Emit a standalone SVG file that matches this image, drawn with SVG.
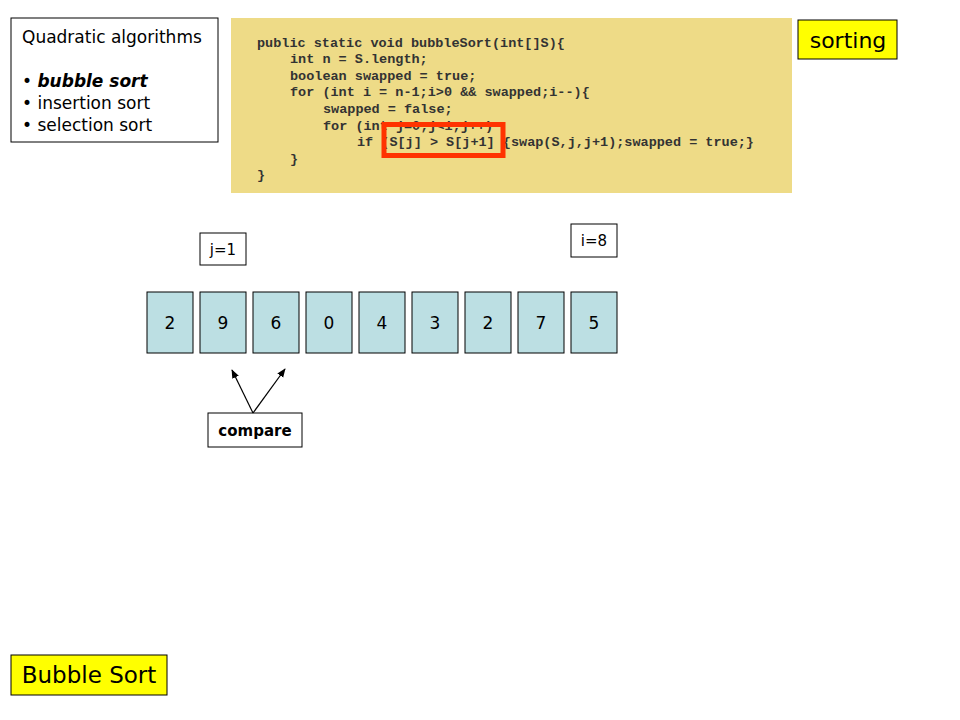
<svg xmlns="http://www.w3.org/2000/svg" width="960" height="720" viewBox="0 0 960 720">
<style>
.box{fill:#fff;stroke:#000;stroke-width:1}
.ybox{fill:#ffff00;stroke:#000;stroke-width:1}
.cell{fill:#bcdfe3;stroke:#000;stroke-width:1}
.t{font-family:"DejaVu Sans","Liberation Sans",sans-serif;fill:#000}
.q{font-size:17px}
.code{font-family:"Liberation Mono","DejaVu Sans Mono",monospace;font-size:13.5px;font-weight:bold;fill:#333}
.num{font-size:17px;text-anchor:middle}
.conn{stroke:#000;stroke-width:1.2;fill:none}
</style>
<defs>
<marker id="ah" viewBox="0 0 10 10" refX="9" refY="5" markerWidth="9" markerHeight="9" markerUnits="userSpaceOnUse" orient="auto">
<path d="M0,1 L10,5 L0,9 Z" fill="#000"/>
</marker>
</defs>
<rect width="960" height="720" fill="#fff"/>

<g id="quadratic">
<rect class="box" x="11" y="18" width="207" height="124"/>
<text class="t q" x="22" y="43">Quadratic algorithms</text>
<text class="t q" x="22" y="87">• <tspan font-weight="bold" font-style="italic">bubble sort</tspan></text>
<text class="t q" x="22" y="109">• insertion sort</text>
<text class="t q" x="22" y="131">• selection sort</text>
</g>

<g id="code">
<rect x="231" y="18" width="561" height="175" fill="#eedb87"/>
<text class="code" x="257" y="47">public static void bubbleSort(int[]S){</text>
<text class="code" x="290" y="63">int n = S.length;</text>
<text class="code" x="290" y="80">boolean swapped = true;</text>
<text class="code" x="290" y="96">for (int i = n-1;i&gt;0 &amp;&amp; swapped;i--){</text>
<text class="code" x="323" y="113">swapped = false;</text>
<text class="code" x="323" y="130">for (int j=0;j&lt;i;j++)</text>
<text class="code" x="357" y="146">if (S[j] &gt; S[j+1] {swap(S,j,j+1);swapped = true;}</text>
<text class="code" x="290" y="163">}</text>
<text class="code" x="257" y="179">}</text>
<rect x="384" y="124.5" width="119" height="31" fill="none" stroke="#ff3300" stroke-width="5"/>
</g>

<g id="sorting">
<rect class="ybox" x="798" y="20" width="99" height="39"/>
<text class="t" x="848" y="48" font-size="22" text-anchor="middle">sorting</text>
</g>

<g id="j">
<rect class="box" x="200" y="233" width="46" height="32"/>
<text class="t" x="223" y="255" font-size="15" text-anchor="middle">j=1</text>
</g>
<g id="i">
<rect class="box" x="571" y="224" width="46" height="33"/>
<text class="t" x="594" y="246" font-size="15" text-anchor="middle">i=8</text>
</g>

<g id="array">
<rect class="cell" x="147" y="292" width="46" height="61"/><text class="t num" x="170" y="329">2</text>
<rect class="cell" x="200" y="292" width="46" height="61"/><text class="t num" x="223" y="329">9</text>
<rect class="cell" x="253" y="292" width="46" height="61"/><text class="t num" x="276" y="329">6</text>
<rect class="cell" x="306" y="292" width="46" height="61"/><text class="t num" x="329" y="329">0</text>
<rect class="cell" x="359" y="292" width="46" height="61"/><text class="t num" x="382" y="329">4</text>
<rect class="cell" x="412" y="292" width="46" height="61"/><text class="t num" x="435" y="329">3</text>
<rect class="cell" x="465" y="292" width="46" height="61"/><text class="t num" x="488" y="329">2</text>
<rect class="cell" x="518" y="292" width="46" height="61"/><text class="t num" x="541" y="329">7</text>
<rect class="cell" x="571" y="292" width="46" height="61"/><text class="t num" x="594" y="329">5</text>
</g>

<g id="compare">
<rect class="box" x="208" y="413" width="94" height="34"/>
<text class="t" x="255" y="436" font-size="15" font-weight="bold" text-anchor="middle">compare</text>
</g>

<g id="connectors">
<line class="conn" x1="253" y1="413" x2="232" y2="370" marker-end="url(#ah)"/>
<line class="conn" x1="253" y1="413" x2="285" y2="369" marker-end="url(#ah)"/>
</g>

<g id="title">
<rect class="ybox" x="11" y="655" width="156" height="40"/>
<text class="t" x="89" y="683" font-size="23" text-anchor="middle">Bubble Sort</text>
</g>
</svg>
